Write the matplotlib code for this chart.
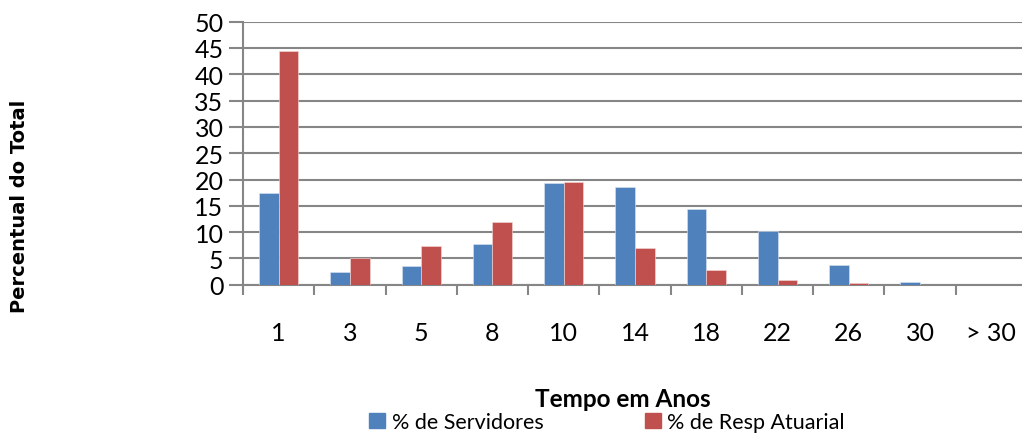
import numpy as np
import matplotlib
matplotlib.use("Agg")
import matplotlib.pyplot as plt
from matplotlib.patches import Patch

# faixas de tempo e percentuais
categorias = ["1", "3", "5", "8", "10", "14", "18", "22", "26", "30", "> 30"]
servidores = [17.4, 2.5, 3.5, 7.7, 19.3, 18.6, 14.4, 10.2, 3.7, 0.6, 0.0]
resp_atuarial = [44.4, 5.1, 7.3, 11.9, 19.6, 7.0, 2.8, 0.9, 0.3, 0.0, 0.0]
yticks = list(range(0, 55, 5))

azul = "#4F81BD"
vermelho = "#C0504D"
cinza = "#868686"

plt.rcParams["font.family"] = ["Lato", "DejaVu Sans"]

fig = plt.figure(figsize=(10.22, 4.35), dpi=100)
# o eixo passa um pouco da borda direita, como no original
ax = fig.add_axes([243 / 1022, 1 - 285.7 / 435, 784 / 1022, 263 / 435])

x = np.arange(len(categorias))
w = 0.276
ax.bar(x - w / 2, servidores, w, color=azul, edgecolor="#dce6f2", linewidth=0.4, zorder=3)
ax.bar(x + w / 2, resp_atuarial, w, color=vermelho, edgecolor="#f2dcdb", linewidth=0.4, zorder=3)

ax.set_xlim(-0.5, len(categorias) - 0.5)
ax.set_ylim(0, 50)
ax.set_yticks(yticks)
ax.yaxis.grid(True, color=cinza, linewidth=1.5, zorder=0)
ax.set_axisbelow(True)

for s in ["top", "right"]:
    ax.spines[s].set_visible(False)
for s in ["left", "bottom"]:
    ax.spines[s].set_color(cinza)
    ax.spines[s].set_linewidth(1.5)

# marcas entre categorias, rotulos no centro
ax.set_xticks(np.arange(len(categorias) + 1) - 0.5)
ax.set_xticklabels([])
ax.tick_params(axis="x", which="major", length=7, width=1.5, color=cinza)
ax.set_xticks(x, minor=True)
ax.set_xticklabels(categorias, minor=True, fontsize=18)
ax.tick_params(axis="x", which="minor", length=0, pad=26)
ax.tick_params(axis="y", length=10, width=1.5, color=cinza, labelsize=18, pad=4)

fig.text(20 / 1022, 1 - 206 / 435, "Percentual do Total", rotation=90, ha="center", va="center",
         fontsize=14, fontweight="bold", family="DejaVu Sans")
fig.text(623 / 1022, 1 - 400 / 435, "Tempo em Anos", ha="center", va="center",
         fontsize=17.5, fontweight="bold")

handles = [Patch(color=azul, label="% de Servidores"), Patch(color=vermelho, label="% de Resp Atuarial")]
fig.legend(handles=handles, loc="center", bbox_to_anchor=(607 / 1022, 1 - 423 / 435), ncol=2,
           frameon=False, fontsize=15.5, handlelength=0.75, handleheight=0.75, handletextpad=0.3,
           columnspacing=4.7, borderpad=0)

fig.savefig("out.png", dpi=100)
